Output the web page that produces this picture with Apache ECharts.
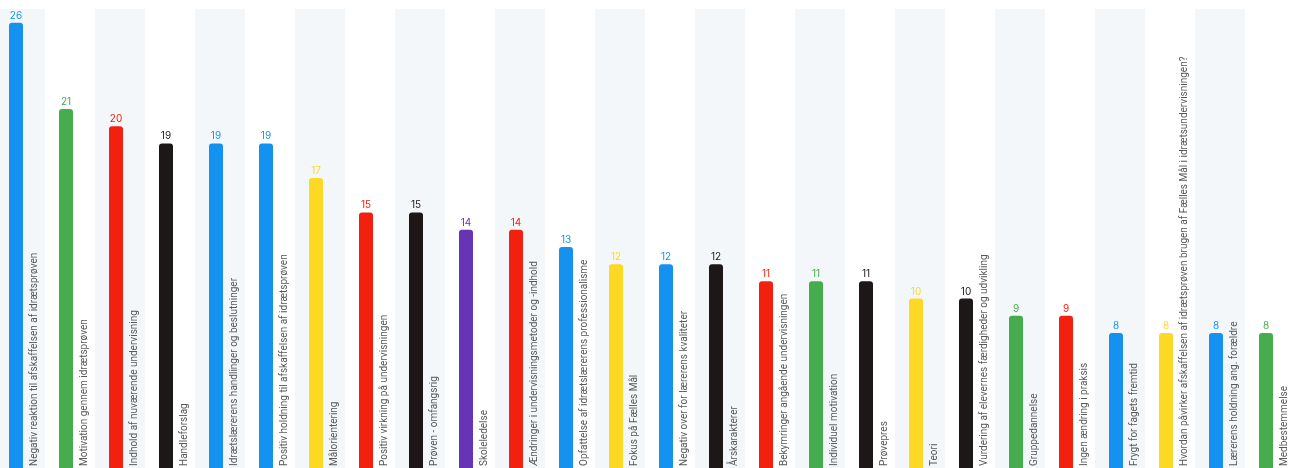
<!DOCTYPE html>
<html>
<head>
<meta charset="utf-8">
<script src="https://cdn.jsdelivr.net/npm/echarts@6/dist/echarts.min.js"></script>
<style>
html,body{margin:0;padding:0;background:#fff;}
#chart{width:1293px;height:468px;}
</style>
</head>
<body>
<div id="chart"></div>
<script>
const categories = [
  "Negativ reaktion til afskaffelsen af idrætsprøven",
  "Motivation gennem idrætsprøven",
  "Indhold af nuværende undervisning",
  "Handleforslag",
  "Idrætslærerens handlinger og beslutninger",
  "Positiv holdning til afskaffelsen af idrætsprøven",
  "Målorientering",
  "Positiv virkning på undervisningen",
  "Prøven - omfangsrig",
  "Skoleledelse",
  "Ændringer i undervisningsmetoder og -indhold",
  "Opfattelse af idrætslærerens professionalisme",
  "Fokus på Fælles Mål",
  "Negativ over for lærerens kvaliteter",
  "Årskarakterer",
  "Bekymringer angående undervisningen",
  "Individuel motivation",
  "Prøvepres",
  "Teori",
  "Vurdering af elevernes færdigheder og udvikling",
  "Gruppedannelse",
  "Ingen ændring i praksis",
  "Frygt for fagets fremtid",
  "Hvordan påvirker afskaffelsen af idrætsprøven brugen af Fælles Mål i idrætsundervisningen?",
  "Lærerens holdning ang. forældre",
  "Medbestemmelse"
];
const values = [26, 21, 20, 19, 19, 19, 17, 15, 15, 14, 14, 13, 12, 12, 12, 11, 11, 11, 10, 10, 9, 9, 8, 8, 8, 8];
const colorKeys = ["blue","green","red","black","blue","blue","yellow","red","black","purple","red","blue","yellow","blue","black","red","green","black","yellow","black","green","red","blue","yellow","blue","green"];
const palette = {
  blue: "#1592ef",
  green: "#45ad4e",
  red: "#f2200e",
  black: "#1d1718",
  yellow: "#fdd824",
  purple: "#6734b5"
};

const chart = echarts.init(document.getElementById('chart'));
const barData = values.map((v, i) => ({
  value: v,
  itemStyle: { color: palette[colorKeys[i]] },
  label: { color: palette[colorKeys[i]] }
}));

chart.setOption({
  animation: false,
  backgroundColor: '#ffffff',
  grid: { left: -5, right: -2, top: 9, bottom: -3, outerBoundsMode: 'none', containLabel: false },
  xAxis: {
    type: 'category',
    data: categories,
    axisLine: { show: false },
    axisTick: { show: false, interval: 0 },
    axisLabel: { show: false, interval: 0 },
    splitLine: { show: false },
    splitArea: { show: true, interval: 0, areaStyle: { color: ['#f4f7fa', '#ffffff'] } }
  },
  yAxis: {
    type: 'value',
    min: 0,
    max: 26.8,
    show: false,
    splitLine: { show: false }
  },
  series: [
    {
      type: 'bar',
      data: barData,
      barWidth: 14,
      barGap: 0,
      itemStyle: { borderRadius: [3, 3, 0, 0] },
      label: {
        show: true,
        position: 'top',
        distance: 2,
        fontSize: 10,
        fontFamily: 'Inter, Roboto, sans-serif'
      }
    },
    {
      type: 'bar',
      data: values,
      barWidth: 8,
      barGap: 0,
      itemStyle: { color: 'rgba(0,0,0,0)' },
      silent: true,
      label: {
        show: true,
        position: [11, '100%'],
        rotate: 90,
        align: 'left',
        verticalAlign: 'middle',
        padding: [0, 0, 0, 5],
        fontSize: 10,
        color: '#585858',
        fontFamily: 'Roboto, sans-serif',
        formatter: (p) => categories[p.dataIndex]
      }
    }
  ],
  graphic: [
    { type: 'rect', shape: { x: 1287, y: 9, width: 6, height: 459 }, style: { fill: '#f4f7fa' }, silent: true },
    { type: 'line', shape: { x1: 1289.5, y1: 30, x2: 1289.5, y2: 468 }, style: { stroke: '#c8c8c8', lineWidth: 1 }, silent: true }
  ]
});
</script>
</body>
</html>
